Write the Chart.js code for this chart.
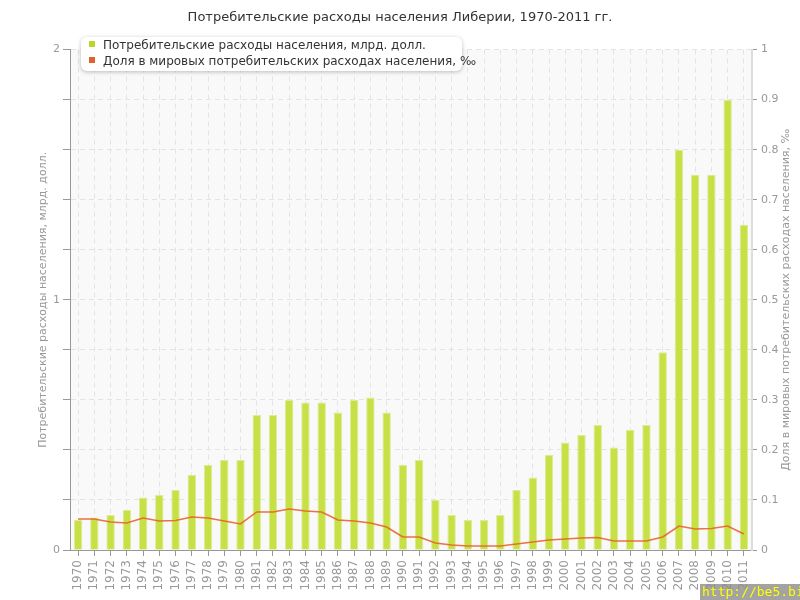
<!DOCTYPE html>
<html>
<head>
<meta charset="utf-8">
<script src="https://cdn.jsdelivr.net/npm/chart.js@4"></script>
<style>
  body { margin: 0; background: #fff; }
  #wrap { position: relative; width: 800px; height: 600px; }
  #legend {
    position: absolute; left: 81px; top: 37px; width: 381px; height: 34px;
    background: #fff; border-radius: 6px; box-shadow: 0 1px 4px rgba(0,0,0,0.25);
    font: 12px "DejaVu Sans"; color: #333;
  }
  #legend div { position: absolute; left: 8px; white-space: nowrap; line-height: 14px; }
  #legend span { display: inline-block; width: 6px; height: 6px; margin-right: 8px; vertical-align: 2px; }
  #mark {
    position: absolute; left: 700px; top: 584px; width: 100px; height: 16px;
    background: rgba(140,140,140,0.8); color: #ffff00; font: 13px "DejaVu Sans Mono";
    line-height: 16px; padding-left: 2px; overflow: hidden; white-space: nowrap;
  }
</style>
</head>
<body>
<div id="wrap">
  <canvas id="chart" width="800" height="600"></canvas>
  <div id="legend">
    <div style="top:1px"><span style="background:#b9d62e"></span>Потребительские расходы населения, млрд. долл.</div>
    <div style="top:17px"><span style="background:#e4602a"></span>Доля в мировых потребительских расходах населения, ‰</div>
  </div>
  <div id="mark">http://be5.biz/</div>
</div>
<script>
Chart.defaults.font.family = "DejaVu Sans";
Chart.defaults.font.size = 11;
Chart.defaults.color = "#999";

var years = ["1970","1971","1972","1973","1974","1975","1976","1977","1978","1979",
  "1980","1981","1982","1983","1984","1985","1986","1987","1988","1989",
  "1990","1991","1992","1993","1994","1995","1996","1997","1998","1999",
  "2000","2001","2002","2003","2004","2005","2006","2007","2008","2009","2010","2011"];

// млрд. долл.
var spending = [0.12, 0.13, 0.14, 0.16, 0.21, 0.22, 0.24, 0.30, 0.34, 0.36,
  0.36, 0.54, 0.54, 0.60, 0.59, 0.59, 0.55, 0.60, 0.61, 0.55,
  0.34, 0.36, 0.20, 0.14, 0.12, 0.12, 0.14, 0.24, 0.29, 0.38,
  0.43, 0.46, 0.50, 0.41, 0.48, 0.50, 0.79, 1.60, 1.50, 1.50, 1.80, 1.30];

// доля, промилле
var share = [0.062, 0.062, 0.056, 0.054, 0.064, 0.058, 0.059, 0.066, 0.064, 0.058,
  0.052, 0.076, 0.076, 0.082, 0.078, 0.076, 0.060, 0.058, 0.054, 0.046,
  0.026, 0.026, 0.014, 0.010, 0.008, 0.008, 0.008, 0.012, 0.016, 0.020,
  0.022, 0.024, 0.025, 0.018, 0.018, 0.018, 0.026, 0.048, 0.042, 0.043, 0.048, 0.032];

var leftTitle = "Потребительские расходы населения, млрд. долл.";
var rightTitle = "Доля в мировых потребительских расходах населения, ‰";

var plotBg = {
  id: "plotBg",
  beforeDraw: function(chart) {
    var a = chart.chartArea, ctx = chart.ctx;
    ctx.save();
    ctx.fillStyle = "#f9f9f9";
    ctx.fillRect(a.left, a.top, a.right - a.left, a.bottom - a.top);
    ctx.restore();
  },
  afterDraw: function(chart) {
    var a = chart.chartArea, ctx = chart.ctx;
    ctx.save();
    ctx.translate(786, (a.top + a.bottom) / 2);
    ctx.rotate(-Math.PI / 2);
    ctx.font = "11px 'DejaVu Sans'";
    ctx.fillStyle = "#999";
    ctx.textAlign = "center";
    ctx.textBaseline = "middle";
    ctx.fillText(rightTitle, 0, 0);
    ctx.restore();
  }
};

new Chart(document.getElementById("chart"), {
  type: "bar",
  data: {
    labels: years,
    datasets: [
      {
        type: "line",
        data: share,
        yAxisID: "y2",
        borderColor: "rgba(232,100,45,0.9)",
        borderWidth: 1.6,
        pointRadius: 0,
        tension: 0,
        order: 0
      },
      {
        data: spending,
        yAxisID: "y",
        backgroundColor: "#c6e045",
        borderColor: "#dcec94",
        borderWidth: 1,
        categoryPercentage: 1,
        barPercentage: 0.52,
        order: 1
      }
    ]
  },
  options: {
    responsive: false,
    animation: false,
    layout: { padding: 0 },
    scales: {
      x: {
        offset: true,
        z: 1,
        grid: { offset: false, color: "#e4e4e4", tickColor: "#999", tickLength: 6 },
        border: { color: "#999", width: 1, dash: [5, 4] },
        ticks: { minRotation: 90, maxRotation: 90, autoSkip: false, padding: 4, font: { size: 12 } },
        afterFit: function(s) { s.height = 50; }
      },
      y: {
        position: "left",
        min: 0,
        max: 2,
        ticks: {
          stepSize: 0.2,
          padding: 3,
          callback: function(v) { return Math.abs(v - Math.round(v)) < 1e-6 ? String(Math.round(v)) : ""; }
        },
        grid: { color: "#e4e4e4", tickColor: "#999", tickLength: 7 },
        border: { color: "#999", width: 1, dash: [5, 4] },
        title: { display: true, text: leftTitle, color: "#999", padding: { top: 37, bottom: 0 } },
        afterFit: function(s) { s.width = 70; }
      },
      y2: {
        position: "right",
        min: 0,
        max: 1,
        ticks: {
          stepSize: 0.1,
          padding: 4,
          callback: function(v) { return v === 0 ? "0" : v === 1 ? "1" : v.toFixed(1); }
        },
        grid: { drawOnChartArea: false, tickColor: "#999", tickLength: 5 },
        border: { color: "#ddd", width: 2 },
        afterFit: function(s) { s.width = 48; }
      }
    },
    plugins: {
      legend: { display: false },
      tooltip: { enabled: false },
      title: {
        display: true,
        text: "Потребительские расходы населения Либерии, 1970-2011 гг.",
        color: "#333",
        font: { size: 13, weight: "normal" },
        padding: { top: 10, bottom: 24 }
      }
    }
  },
  plugins: [plotBg]
});
</script>
</body>
</html>
